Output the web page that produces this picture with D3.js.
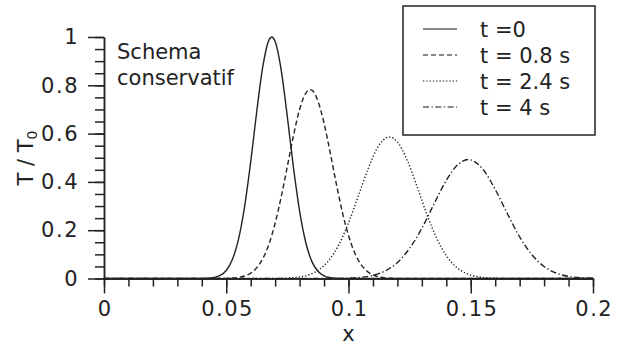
<!DOCTYPE html>
<html>
<head>
<meta charset="utf-8">
<script src="https://cdn.jsdelivr.net/npm/d3@7"></script>
<style>
  html, body { margin: 0; padding: 0; background: #fff; }
  svg text { font-family: "DejaVu Sans", sans-serif; fill: #222; }
</style>
</head>
<body>
<div id="chart"></div>
<script>
// values: [x, T/T0]
const t0 = [[0,0],[0.04,0.0003],[0.0425,0.0012],[0.045,0.0042],[0.0475,0.0125],[0.05,0.0333],[0.0525,0.0782],
  [0.055,0.162],[0.0575,0.298],[0.06,0.483],[0.0625,0.694],[0.065,0.88],[0.0675,0.988],[0.0686,1.0],
  [0.07,0.981],[0.0725,0.861],[0.075,0.668],[0.0775,0.459],[0.08,0.279],[0.0825,0.150],[0.085,0.071],
  [0.0875,0.0298],[0.09,0.0111],[0.0925,0.0036],[0.095,0.0011],[0.0975,0.0003],[0.2,0]];

const t08 = [[0,0],[0.05,0.0007],[0.0525,0.0018],[0.055,0.0045],[0.0575,0.0104],[0.06,0.0225],[0.0625,0.0449],
  [0.065,0.0833],[0.0675,0.143],[0.07,0.229],[0.0725,0.339],[0.075,0.465],[0.0775,0.592],[0.08,0.700],
  [0.0825,0.767],[0.0843,0.782],[0.085,0.780],[0.0875,0.735],[0.09,0.643],[0.0925,0.522],[0.095,0.393],
  [0.0975,0.274],[0.1,0.178],[0.1025,0.107],[0.105,0.0595],[0.1075,0.0308],[0.11,0.0148],[0.1125,0.0066],
  [0.115,0.0027],[0.1175,0.001],[0.12,0.0004],[0.2,0]];

const t24 = [[0,0],[0.068,0.0002],[0.072,0.0007],[0.076,0.0022],[0.08,0.0064],[0.084,0.0161],[0.088,0.0368],
  [0.092,0.0755],[0.096,0.139],[0.1,0.230],[0.104,0.341],[0.108,0.454],[0.112,0.544],[0.116,0.585],
  [0.1167,0.586],[0.12,0.565],[0.124,0.490],[0.128,0.382],[0.132,0.267],[0.136,0.168],[0.14,0.0946],
  [0.144,0.0479],[0.148,0.0218],[0.152,0.0089],[0.156,0.0033],[0.16,0.0011],[0.164,0.0003],[0.168,0.0001],[0.2,0]];

const t4 = [[0,0],[0.09,0.0001],[0.095,0.0005],[0.1,0.0016],[0.105,0.0049],[0.11,0.0131],[0.115,0.0313],
  [0.12,0.0663],[0.125,0.125],[0.13,0.208],[0.135,0.309],[0.14,0.406],[0.145,0.474],[0.149,0.4925],
  [0.15,0.491],[0.155,0.452],[0.16,0.369],[0.165,0.268],[0.17,0.172],[0.175,0.0983],[0.18,0.0498],
  [0.185,0.0224],[0.19,0.0089],[0.195,0.0032],[0.2,0.001]];

const seriesNames = ["t =0", "t = 0.8 s", "t = 2.4 s", "t = 4 s"];
const seriesData = [t0, t08, t24, t4];
const dashes = [null, "5,3", "1.3,2", "6,2.5,1.3,2.5"];

const xTicks = [0, 0.05, 0.1, 0.15, 0.2];
const xMinor = d3.range(0, 0.2001, 0.01);
const yTicks = [0, 0.2, 0.4, 0.6, 0.8, 1];
const yMinor = d3.range(0, 1.0001, 0.05);

const width = 619, height = 346;
const margin = { left: 104, right: 26, top: 37, bottom: 67.5 };
const innerW = width - margin.left - margin.right;
const innerH = height - margin.top - margin.bottom;

const svg = d3.select("#chart").append("svg")
  .attr("width", width).attr("height", height);

const chart = svg.append("g")
  .attr("transform", `translate(${margin.left},${margin.top})`);

const xScale = d3.scaleLinear().domain([0, 0.2]).range([0, innerW]);
const yScale = d3.scaleLinear().domain([0, 1]).range([innerH, 0]);

const fmt = d => d === 0 ? "0" : String(+d.toFixed(2));

// minor ticks
chart.append("g").attr("transform", `translate(0,${innerH})`)
  .call(d3.axisBottom(xScale).tickValues(xMinor).tickSize(8).tickSizeOuter(0).tickFormat(""));
chart.append("g")
  .call(d3.axisLeft(yScale).tickValues(yMinor).tickSize(9).tickSizeOuter(0).tickFormat(""));

// major ticks + labels
const xAxisG = chart.append("g").attr("transform", `translate(0,${innerH})`)
  .call(d3.axisBottom(xScale).tickValues(xTicks).tickSize(15).tickSizeOuter(0).tickPadding(8).tickFormat(fmt));
const yAxisG = chart.append("g")
  .call(d3.axisLeft(yScale).tickValues(yTicks).tickSize(16).tickSizeOuter(0).tickPadding(9).tickFormat(fmt));

chart.selectAll(".domain, .tick line").attr("stroke", "#222").attr("stroke-width", 1.5);
chart.selectAll(".tick text")
  .attr("font-size", 21)
  .attr("font-family", "DejaVu Sans")
  .attr("letter-spacing", 1.5)
  .attr("fill", "#222");
// keep the letter-spaced labels centred under their ticks
xAxisG.selectAll(".tick text").attr("dx", 0.75);

// curves
const line = d3.line()
  .x(d => xScale(d[0]))
  .y(d => yScale(d[1]))
  .curve(d3.curveMonotoneX);

seriesData.forEach((s, i) => {
  chart.append("path")
    .datum(s)
    .attr("fill", "none")
    .attr("stroke", "#222")
    .attr("stroke-width", 1.4)
    .attr("stroke-dasharray", dashes[i])
    .attr("d", line);
});

// axis titles
svg.append("text")
  .attr("x", xScale(0.1) + margin.left)
  .attr("y", 341)
  .attr("text-anchor", "middle")
  .attr("font-size", 21)
  .text("x");

const yTitle = svg.append("text")
  .attr("transform", "translate(33,158) rotate(-90)")
  .attr("text-anchor", "middle")
  .attr("font-size", 21);
yTitle.append("tspan").text("T / T");
yTitle.append("tspan").attr("font-size", 14).attr("dy", 4).text("0");

// annotation
svg.append("text").attr("x", 117).attr("y", 59).attr("font-size", 21).text("Schema");
svg.append("text").attr("x", 117).attr("y", 85).attr("font-size", 21).text("conservatif");

// legend
const legend = svg.append("g");
legend.append("rect")
  .attr("x", 403).attr("y", 6).attr("width", 192).attr("height", 129)
  .attr("fill", "#fff").attr("stroke", "#222").attr("stroke-width", 1.5);

seriesNames.forEach((name, i) => {
  const yy = 37 + i * 26;
  legend.append("line")
    .attr("x1", 423).attr("x2", 457)
    .attr("y1", yy - 8).attr("y2", yy - 8)
    .attr("stroke", "#888").attr("stroke-width", 2)
    .attr("stroke-dasharray", dashes[i]);
  legend.append("text")
    .attr("x", 480).attr("y", yy)
    .attr("font-size", 21)
    .text(name);
});
</script>
</body>
</html>
